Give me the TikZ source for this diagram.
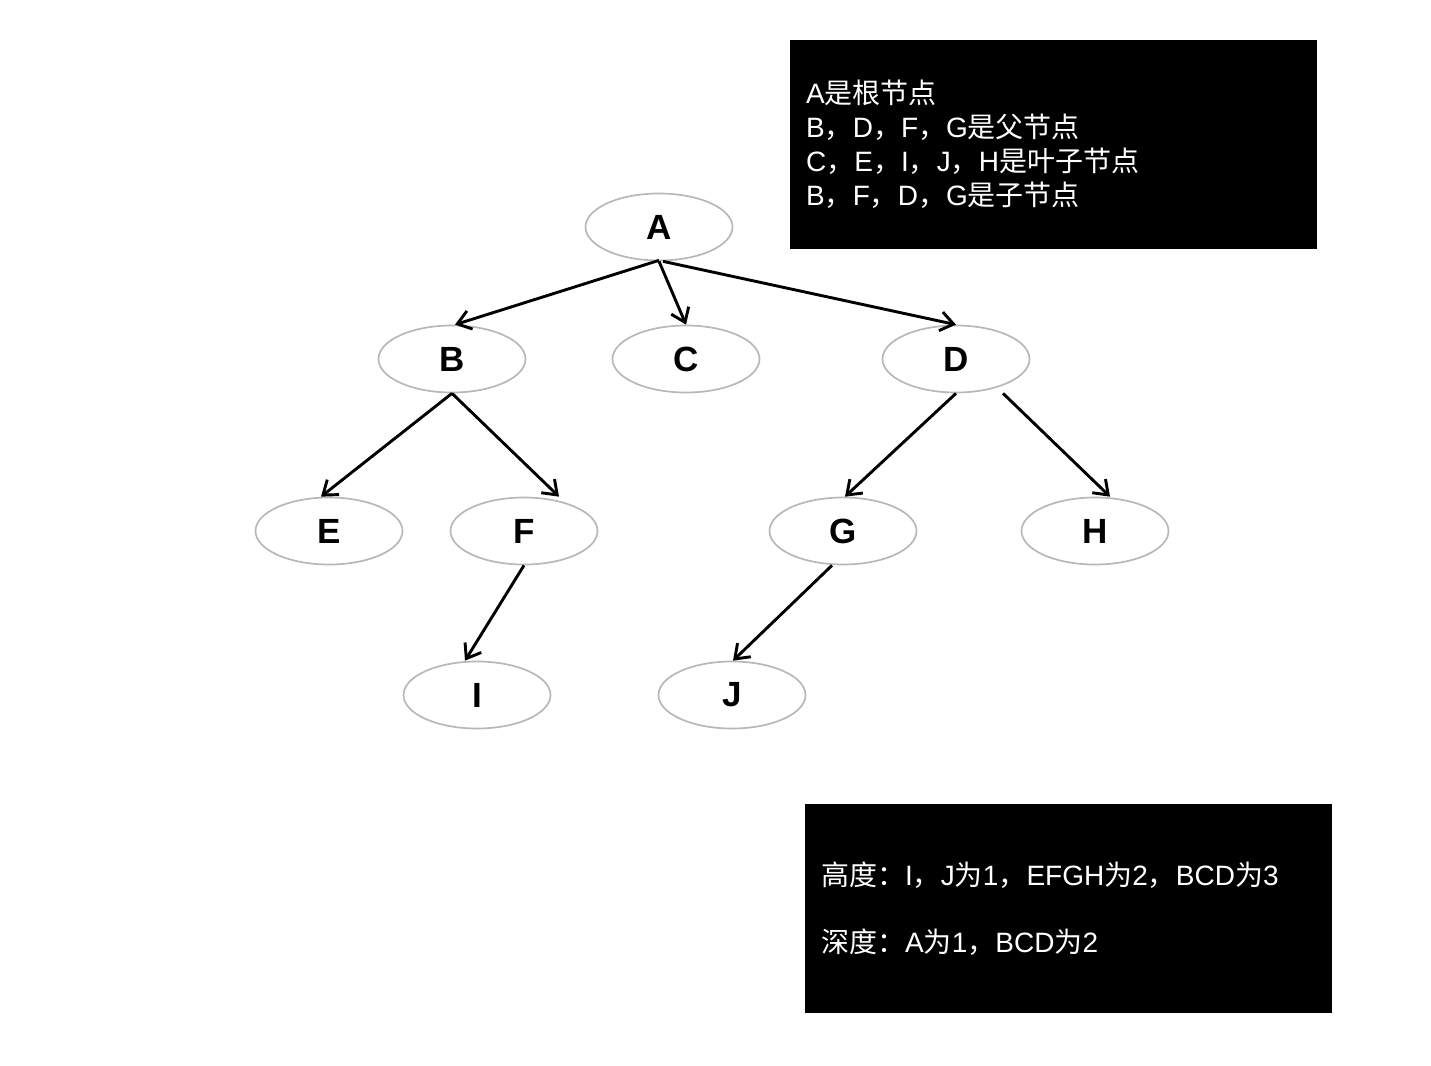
\documentclass[tikz,border=0pt]{standalone}
\usepackage{fontspec}
\setmainfont{Liberation Sans}
\newfontfamily\cjk{Noto Sans CJK SC}
\usetikzlibrary{shapes.geometric,arrows.meta}
\newcommand{\zh}[1]{{\cjk #1}}
\tikzset{
  tnode/.style={ellipse, draw=black!28, line width=1.7pt, minimum width=147pt, minimum height=67pt, inner sep=0pt, font=\fontsize{35}{40}\selectfont\bfseries},
  arr/.style={line width=2.9pt, -{Straight Barb[length=13pt,width=19pt,line width=2.9pt]}},
  bbox/.style={fill=black, draw=none, anchor=north west, inner sep=0pt},
  txt/.style={text=white, anchor=base west, inner sep=0pt, font=\fontsize{28}{34}\selectfont}
}
\begin{document}
\begin{tikzpicture}[x=1pt,y=-1pt]
\useasboundingbox (0,0) rectangle (1431,1065);
\fill[white] (0,0) rectangle (1431,1065);
% nodes
\node[tnode] (A) at (659,227) {A};
\node[tnode] (B) at (452,359) {B};
\node[tnode] (C) at (686,359) {C};
\node[tnode] (D) at (956,359) {D};
\node[tnode] (E) at (329,531) {E};
\node[tnode] (F) at (524,531) {F};
\node[tnode] (G) at (843,531) {G};
\node[tnode] (H) at (1095,531) {H};
\node[tnode] (I) at (477,695) {I};
\node[tnode] (J) at (732,695) {J};
% edges
\draw[arr] ([yshift=1pt]A.south) -- ([xshift=3pt]B.north);
\draw[arr] (A.south) -- (C.north);
\draw[arr] ([xshift=4pt]A.south) -- (D.north);
\draw[arr] (B.south) -- ([xshift=-8pt]E.north);
\draw[arr] (B.south) -- ([xshift=35pt]F.north);
\draw[arr] (D.south) -- ([xshift=2pt]G.north);
\draw[arr] ([xshift=47pt]D.south) -- ([xshift=15pt]H.north);
\draw[arr] (F.south) -- ([xshift=-12pt]I.north);
\draw[arr] ([xshift=-11pt]G.south) -- ([xshift=1pt]J.north);
% info boxes
\node[bbox, minimum width=527pt, minimum height=209pt] (box1) at (790,40) {};
\node[txt] (t1) at (806,103) {A\zh{是根节点}};
\node[txt] (t2) at (806,137) {B\zh{，}D\zh{，}F\zh{，}G\zh{是父节点}};
\node[txt] (t3) at (806,171) {C\zh{，}E\zh{，}I\zh{，}J\zh{，}H\zh{是叶子节点}};
\node[txt] (t4) at (806,205) {B\zh{，}F\zh{，}D\zh{，}G\zh{是子节点}};
\node[bbox, minimum width=527pt, minimum height=209pt] (box2) at (805,804) {};
\node[txt] (b1) at (821,885) {\zh{高度：}I\zh{，}J\zh{为}1\zh{，}EFGH\zh{为}2\zh{，}BCD\zh{为}3};
\node[txt] (b2) at (821,952) {\zh{深度：}A\zh{为}1\zh{，}BCD\zh{为}2};
\end{tikzpicture}
\end{document}
